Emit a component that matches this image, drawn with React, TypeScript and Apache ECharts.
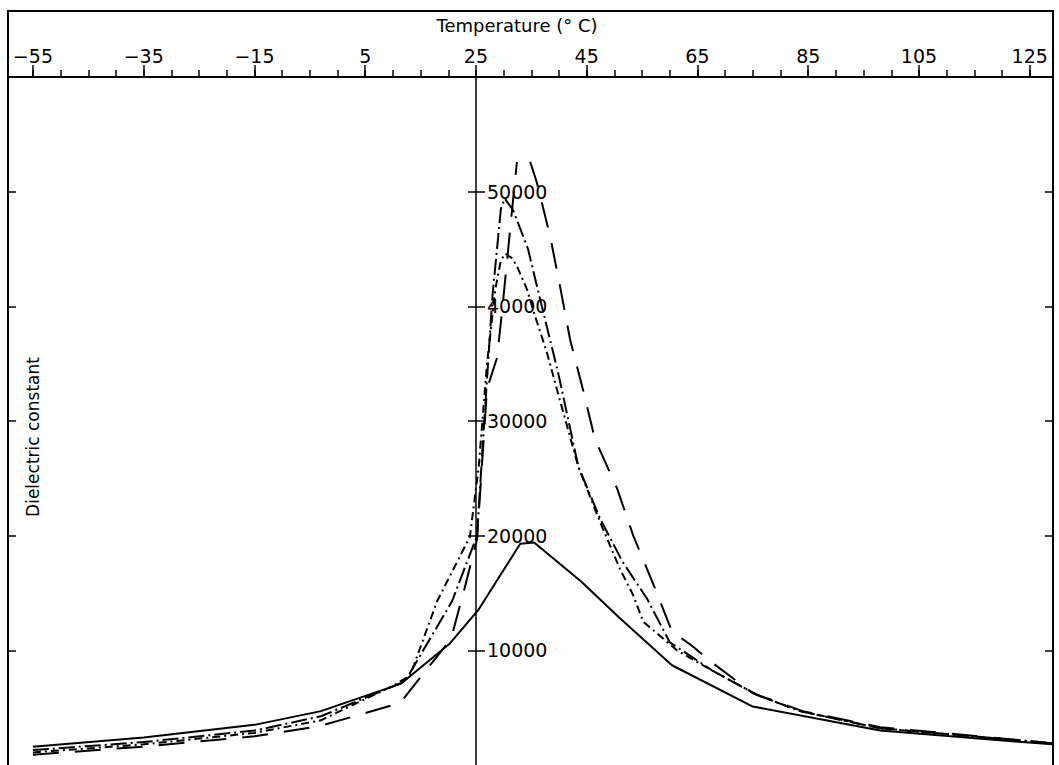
import React, { useEffect, useRef } from "react";
import * as echarts from "echarts";

// Axis ticks / labels
const tempMajor = [-55, -35, -15, 5, 25, 45, 65, 85, 105, 125];
const tempMinor = [
  -55, -50, -45, -40, -35, -30, -25, -20, -15, -10, -5, 0, 5, 10, 15, 20, 25, 30, 35, 40,
  45, 50, 55, 60, 65, 70, 75, 80, 85, 90, 95, 100, 105, 110, 115, 120, 125,
];
const dielectricTicks = [10000, 20000, 30000, 40000, 50000];

// Solid curve
const solidT = [-55, -35, -15, -3, 11.5, 20.3, 25.4, 33, 35.5, 44, 51, 60.4, 75, 98, 129];
const solidV = [1600, 2400, 3500, 4700, 7100, 10600, 13500, 19300, 19400, 16000, 12800, 8700, 5100, 3000, 1800];

// Dash-dot curve (peak ~49 400)
const dashDotT = [-55, -35, -15, -3, 12.2, 20.7, 25.2, 26.5, 28, 29.5, 30.2, 31.7, 34.4, 36.9, 39.8, 43.5, 47.4, 51.5, 55.9, 60, 67.8, 75.8, 83.5, 98, 129];
const dashDotV = [1300, 2000, 3000, 4250, 7300, 14300, 20000, 30000, 41000, 48500, 49400, 48400, 45000, 40000, 34300, 26000, 21500, 17700, 14500, 10700, 8200, 6100, 4700, 3200, 1900];

// Dash-dot-dot curve (peak ~44 600)
const dashDot2T = [-55, -35, -15, -3, 10, 13.1, 18, 23.9, 25.5, 27, 28.5, 29.5, 30.3, 31.5, 32.4, 34.2, 35.7, 37.8, 39.6, 43.5, 47.4, 51, 53.4, 55.2, 61.3, 67.8, 75.8, 83.5, 98, 129];
const dashDot2V = [1100, 1800, 2800, 3900, 6900, 7800, 14300, 19900, 26000, 35000, 41500, 44000, 44600, 44200, 43500, 41500, 39100, 36000, 32800, 26000, 21200, 17100, 14800, 12500, 10000, 8200, 6100, 4700, 3200, 1900];

// Long-dash curve (peak off the drawn range) - rising part
const dashRiseT = [-55, -35, -15, -3.2, 11.3, 14.9, 20.5, 23, 25.2, 27, 28.8, 29.7, 31.5, 32.4];
const dashRiseV = [900, 1600, 2500, 3400, 5400, 7600, 11000, 15500, 19700, 32800, 35500, 39500, 48300, 52600];
// Long-dash curve - falling part
const dashFallT = [34.8, 36, 38.4, 40.2, 42, 44.3, 46.5, 50.5, 53.4, 57, 60.4, 64, 67.8, 75, 84, 98, 129];
const dashFallV = [52600, 50800, 46100, 41700, 37100, 32800, 28400, 24100, 20000, 15800, 11650, 10400, 8870, 6260, 4700, 3300, 1900];

const zip = (t: number[], v: number[]) => t.map((x, i) => [x, v[i]]);

const FONT = "DejaVu Sans";
const X_MIN = -59.5;
const X_MAX = 129.2;
const Y_MIN = 0;
const Y_MAX = 60000;

export default function App() {
  const ref = useRef<HTMLDivElement>(null);
  useEffect(() => {
    document.body.style.margin = "0";
    if (!ref.current) return;
    const chart = echarts.init(ref.current, undefined, { renderer: "svg" });
    const black = "#000";
    const gridBox = { left: 8, top: 77, width: 1045, height: 690 };
    const tickStyle = { color: black, width: 1.5 };
    const hiddenX = (gridIndex: number) => ({
      type: "value",
      gridIndex,
      position: "bottom",
      min: X_MIN,
      max: X_MAX,
      show: false,
    });
    const mkSeries = (name: string, data: number[][], type: any) => ({
      name,
      type: "line",
      xAxisIndex: 0,
      yAxisIndex: 0,
      data,
      symbol: "none",
      showSymbol: false,
      smooth: false,
      silent: true,
      lineStyle: { color: black, width: 2, type },
    });
    chart.setOption({
      animation: false,
      backgroundColor: "#fff",
      grid: [gridBox, gridBox, gridBox, gridBox],
      xAxis: [
        {
          type: "value",
          gridIndex: 0,
          position: "top",
          min: X_MIN,
          max: X_MAX,
          axisLine: { show: true, onZero: false, lineStyle: { color: black, width: 2 } },
          axisTick: { show: true, customValues: tempMinor, length: 7, inside: false, lineStyle: tickStyle },
          axisLabel: { show: false },
          splitLine: { show: false },
        },
        {
          type: "value",
          gridIndex: 1,
          position: "top",
          min: X_MIN,
          max: X_MAX,
          axisLine: { show: false, onZero: false },
          axisTick: { show: true, customValues: tempMajor, length: 12, inside: false, lineStyle: tickStyle },
          axisLabel: {
            show: true,
            customValues: tempMajor,
            margin: 12,
            color: black,
            fontSize: 19,
            fontFamily: FONT,
            formatter: (v: number) => String(v).replace("-", "\u2212"),
          },
          splitLine: { show: false },
        },
        hiddenX(2),
        hiddenX(3),
      ],
      yAxis: [
        {
          type: "value",
          gridIndex: 0,
          position: "left",
          min: Y_MIN,
          max: Y_MAX,
          axisLine: { show: true, onZero: false, lineStyle: { color: black, width: 2 } },
          axisTick: { show: true, customValues: dielectricTicks, inside: true, length: 8, lineStyle: tickStyle },
          axisLabel: { show: false },
          splitLine: { show: false },
        },
        {
          type: "value",
          gridIndex: 1,
          position: "right",
          min: Y_MIN,
          max: Y_MAX,
          axisLine: { show: true, onZero: false, lineStyle: { color: black, width: 2 } },
          axisTick: { show: true, customValues: dielectricTicks, inside: true, length: 8, lineStyle: tickStyle },
          axisLabel: { show: false },
          splitLine: { show: false },
        },
        {
          type: "value",
          gridIndex: 2,
          position: "left",
          offset: -468,
          min: Y_MIN,
          max: Y_MAX,
          axisLine: { show: true, onZero: false, lineStyle: { color: black, width: 1.5 } },
          axisTick: { show: true, customValues: dielectricTicks, inside: true, length: 9, lineStyle: tickStyle },
          axisLabel: {
            show: true,
            customValues: dielectricTicks,
            inside: true,
            margin: 11,
            color: black,
            fontSize: 19,
            fontFamily: FONT,
            formatter: (v: number) => String(v),
          },
          splitLine: { show: false },
        },
        {
          type: "value",
          gridIndex: 3,
          position: "left",
          offset: -468,
          min: Y_MIN,
          max: Y_MAX,
          axisLine: { show: false, onZero: false },
          axisTick: { show: true, customValues: dielectricTicks, inside: false, length: 8, lineStyle: tickStyle },
          axisLabel: { show: false },
          splitLine: { show: false },
        },
      ],
      graphic: [
        {
          type: "rect",
          shape: { x: 8, y: 11, width: 1045, height: 780 },
          style: { fill: "none", stroke: black, lineWidth: 2 },
          silent: true,
        },
        {
          type: "text",
          x: 517,
          y: 25,
          style: { text: "Temperature (° C)", fill: black, fontSize: 18, fontFamily: FONT, align: "center", verticalAlign: "middle" },
          silent: true,
        },
        {
          type: "text",
          x: 33,
          y: 437,
          rotation: Math.PI / 2,
          style: { text: "Dielectric constant", fill: black, fontSize: 17, fontFamily: FONT, align: "center", verticalAlign: "middle" },
          silent: true,
        },
      ],
      series: [
        mkSeries("solid", zip(solidT, solidV), "solid"),
        mkSeries("dash-dot", zip(dashDotT, dashDotV), [16, 4, 2, 4]),
        mkSeries("dash-dot-dot", zip(dashDot2T, dashDot2V), [8, 4, 2, 4]),
        mkSeries("long-dash-a", zip(dashRiseT, dashRiseV), [26, 16]),
        mkSeries("long-dash-b", zip(dashFallT, dashFallV), [26, 16]),
      ],
    });
    return () => chart.dispose();
  }, []);
  return <div ref={ref} style={{ width: 1059, height: 765 }} />;
}
